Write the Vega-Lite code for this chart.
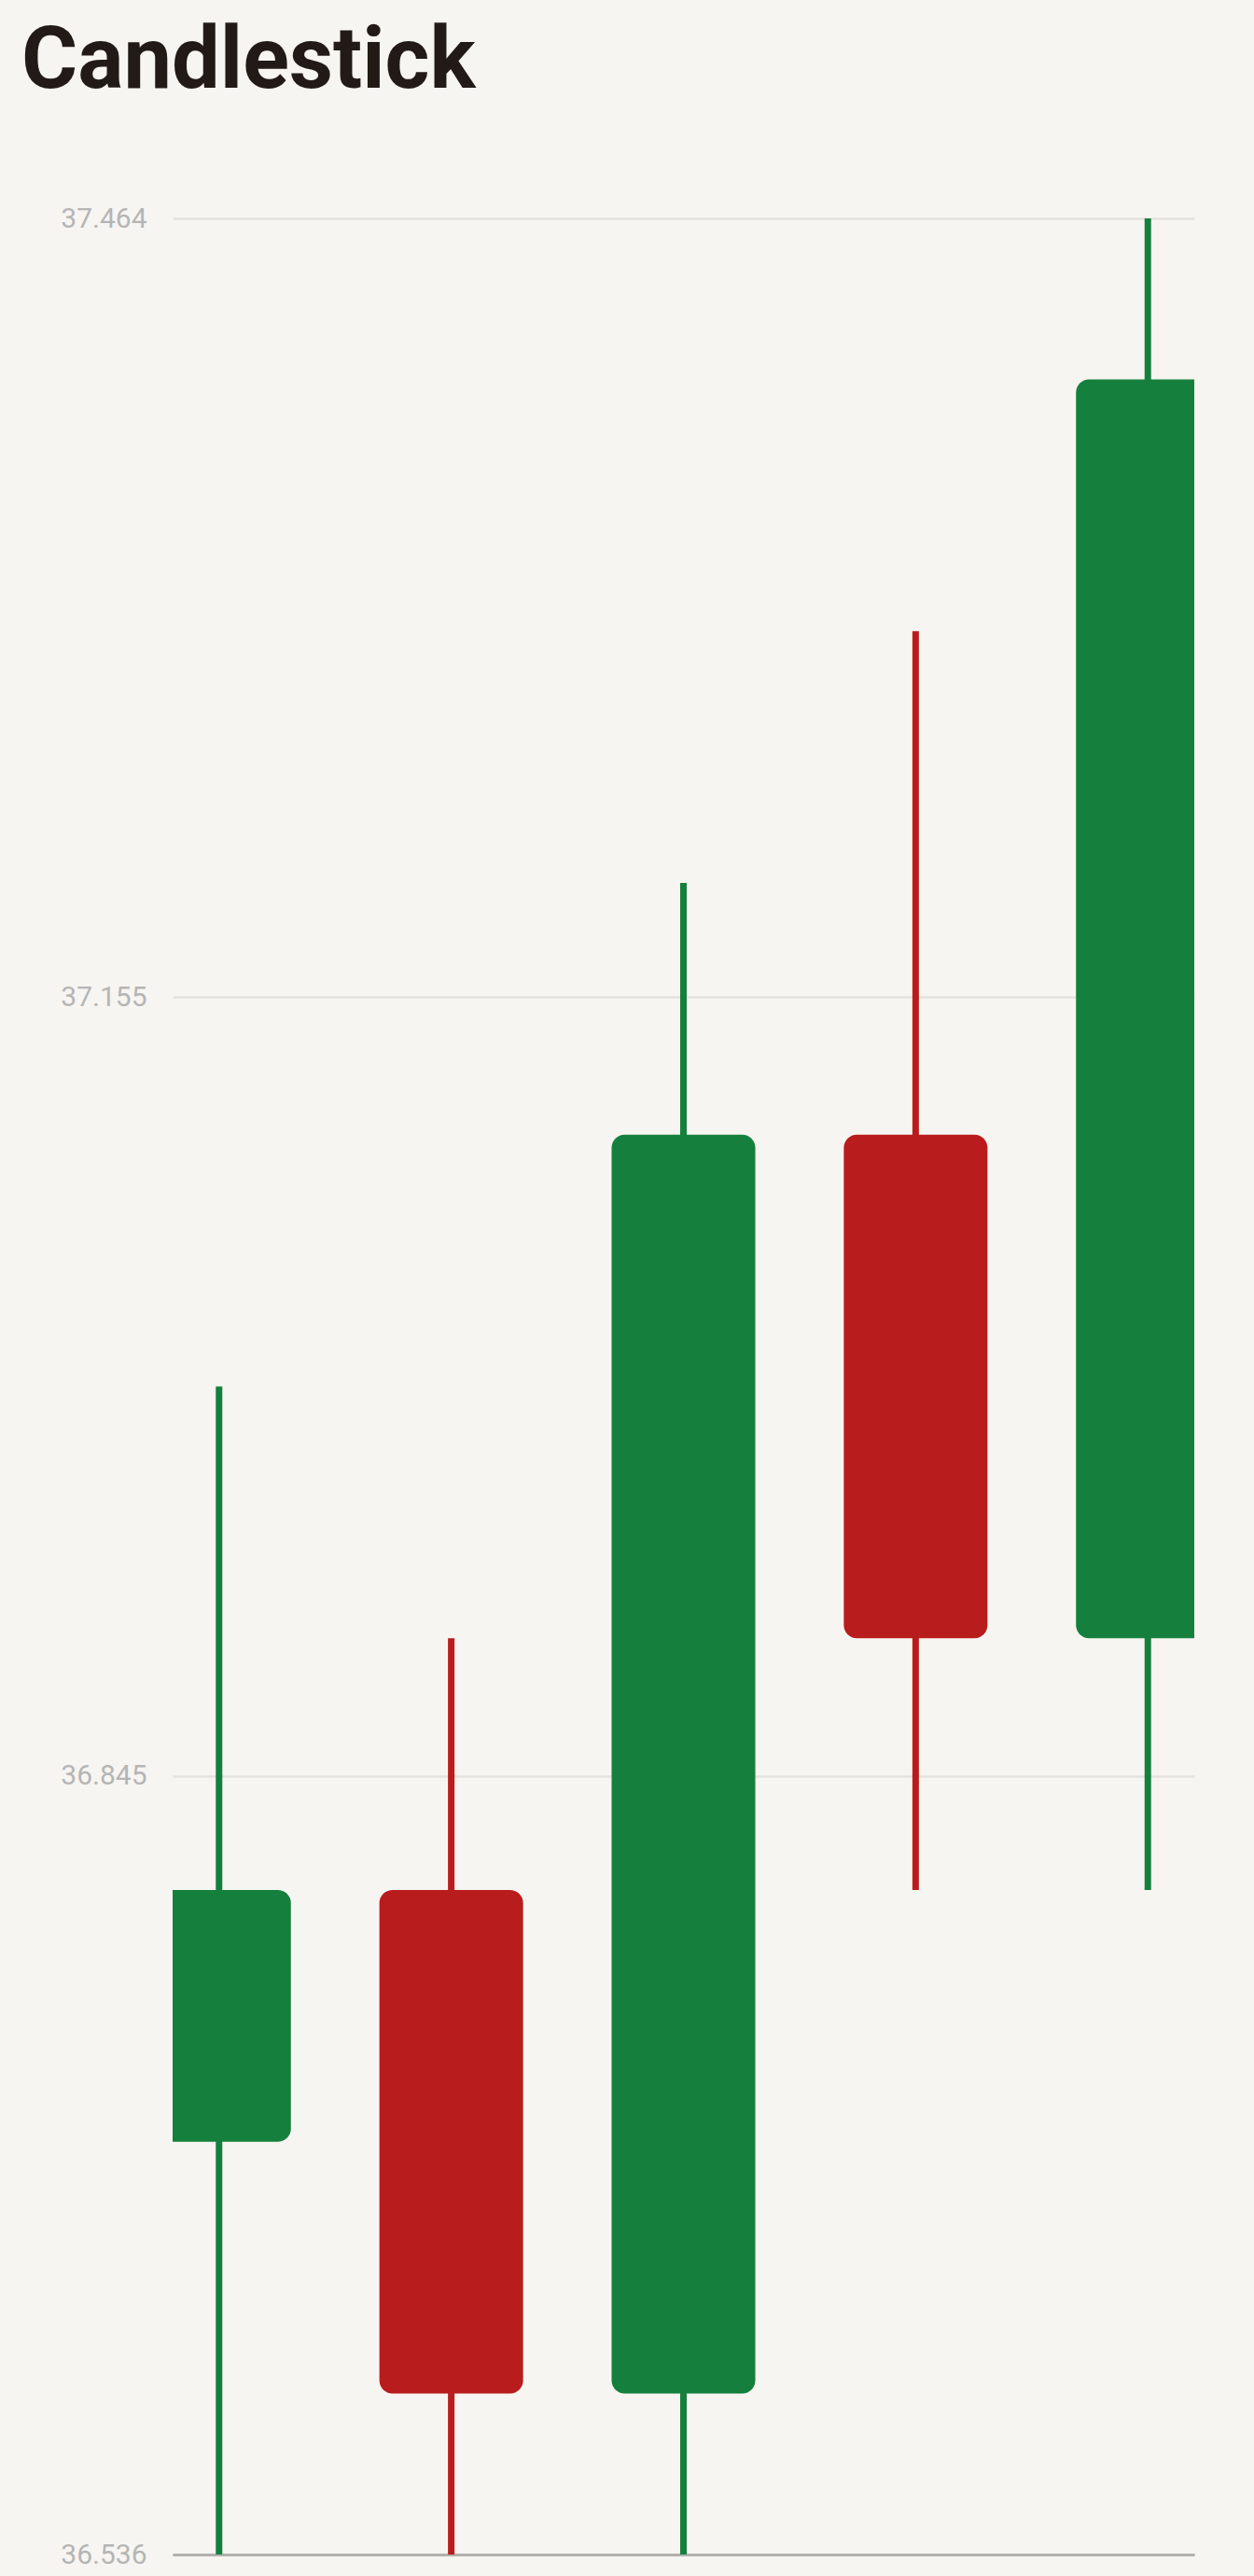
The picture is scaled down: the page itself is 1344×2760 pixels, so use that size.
{
  "$schema": "https://vega.github.io/schema/vega-lite/v6.json",
  "width": 1095,
  "height": 2503,
  "autosize": {"type": "none"},
  "padding": {"left": 185, "top": 234, "right": 64, "bottom": 23},
  "background": "#f7f5f1",
  "title": {
    "text": "Candlestick",
    "anchor": "start",
    "frame": "group",
    "font": "Roboto",
    "fontSize": 92,
    "fontWeight": "bold",
    "color": "#221a17",
    "baseline": "alphabetic",
    "dx": -162,
    "offset": 33
  },
  "config": {
    "view": {"stroke": null},
    "font": "Roboto"
  },
  "data": {
    "values": [
      {"day": 1, "open": 36.7, "close": 36.8, "high": 37.0, "low": 36.536},
      {"day": 2, "open": 36.8, "close": 36.6, "high": 36.9, "low": 36.536},
      {"day": 3, "open": 36.6, "close": 37.1, "high": 37.2, "low": 36.536},
      {"day": 4, "open": 37.1, "close": 36.9, "high": 37.3, "low": 36.8},
      {"day": 5, "open": 36.9, "close": 37.4, "high": 37.464, "low": 36.8}
    ]
  },
  "encoding": {
    "x": {
      "field": "day",
      "type": "quantitative",
      "scale": {"domain": [0.8, 5.2], "nice": false, "zero": false, "padding": 0},
      "axis": {
        "title": null,
        "labels": false,
        "ticks": false,
        "grid": false,
        "domainColor": "#b3b1ad",
        "domainWidth": 3
      }
    },
    "color": {
      "condition": {"test": "datum.close > datum.open", "value": "#15803d"},
      "value": "#b91c1c"
    }
  },
  "layer": [
    {
      "mark": {"type": "rule", "strokeWidth": 7, "clip": true},
      "encoding": {
        "y": {
          "field": "low",
          "type": "quantitative",
          "scale": {"domain": [36.536, 37.464], "nice": false, "zero": false, "padding": 0},
          "axis": {
            "title": null,
            "values": [36.536, 36.8453, 37.1547, 37.464],
            "format": ".3f",
            "domain": false,
            "ticks": false,
            "grid": true,
            "gridColor": "#e4e2de",
            "gridWidth": 2.5,
            "labelFont": "Roboto",
            "labelFontSize": 30,
            "labelColor": "#b5b5b5",
            "labelPadding": 28
          }
        },
        "y2": {"field": "high"}
      }
    },
    {
      "mark": {"type": "bar", "width": 154, "cornerRadius": 14, "clip": true},
      "encoding": {
        "y": {"field": "open", "type": "quantitative"},
        "y2": {"field": "close"}
      }
    }
  ]
}
